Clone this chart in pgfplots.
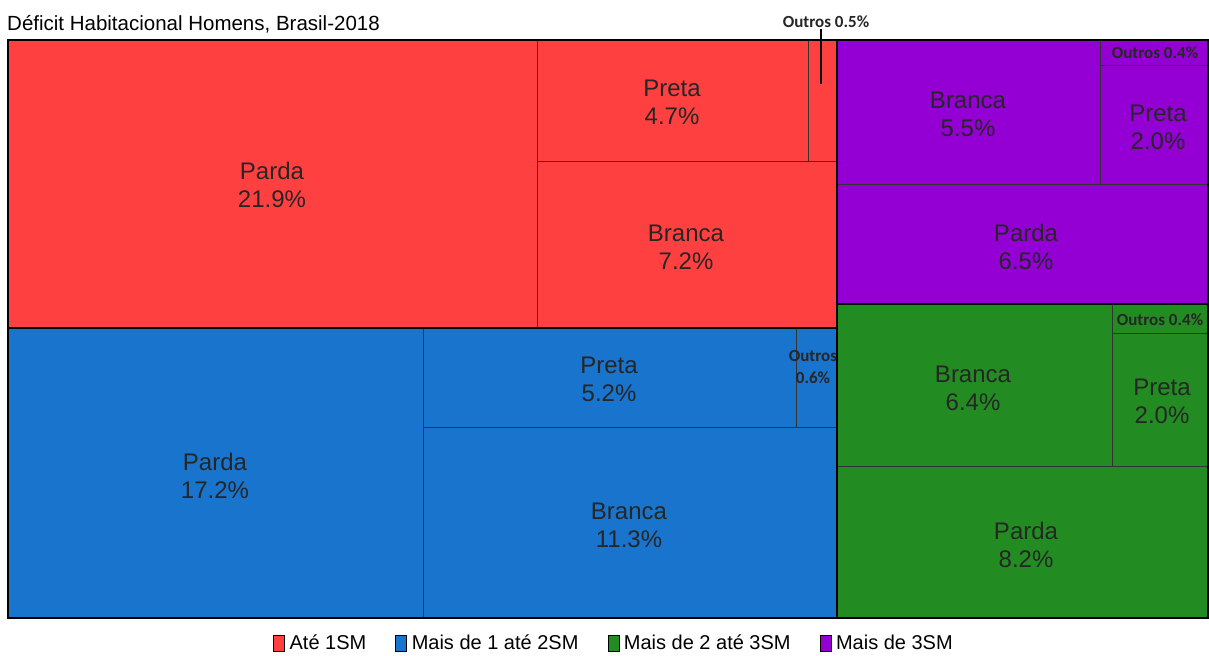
\documentclass[border=0pt]{standalone}
\usepackage{pgfplots}
\pgfplotsset{compat=1.18}
\usepackage{fontspec}
\setmainfont{Liberation Sans}
\newfontfamily\carlito{Carlito}
\definecolor{cRed}{HTML}{FF4040}
\definecolor{cBlue}{HTML}{1874CD}
\definecolor{cGreen}{HTML}{228B22}
\definecolor{cPurple}{HTML}{9400D3}
\pgfplotsset{
  cell/.style={forget plot, mark=none, draw=black!80, line width=0.8pt},
  grp/.style={forget plot, mark=none, draw=black, line width=1.8pt, fill=none},
}
\tikzset{
  lab/.style={font=\fontsize{24}{28}\selectfont, align=center, text=black!85, inner sep=0pt},
  sml/.style={font=\carlito\bfseries\fontsize{17}{22}\selectfont, align=center, text=black!85, inner sep=0pt},
}
\begin{document}
\begin{tikzpicture}
\begin{axis}[
  width=1209pt, height=655pt, scale only axis,
  xmin=0, xmax=1209, ymin=0, ymax=655, y dir=reverse,
  axis line style={draw=none}, xtick=\empty, ytick=\empty,
  clip=false,
  legend columns=4,
  legend style={at={(axis cs:614,643)}, anchor=center, draw=none, fill=none,
    font=\fontsize{20}{24}\selectfont,
    /tikz/every even column/.append style={column sep=27pt}},
  legend image code/.code={\fill[#1] (0pt,-8pt) rectangle (11pt,8pt); \path (14pt,0pt);},
]
\addlegendimage{fill=cRed}\addlegendentry{Até 1SM}
\addlegendimage{fill=cBlue}\addlegendentry{Mais de 1 até 2SM}
\addlegendimage{fill=cGreen}\addlegendentry{Mais de 2 até 3SM}
\addlegendimage{fill=cPurple}\addlegendentry{Mais de 3SM}

% Até 1SM
\addplot[cell, fill=cRed] coordinates {(8,40) (537,40) (537,328) (8,328)} --cycle;
\addplot[cell, fill=cRed] coordinates {(537,40) (808,40) (808,161) (537,161)} --cycle;
\addplot[cell, fill=cRed] coordinates {(808,40) (837,40) (837,161) (808,161)} --cycle;
\addplot[cell, fill=cRed] coordinates {(537,161) (837,161) (837,328) (537,328)} --cycle;
% Mais de 1 até 2SM
\addplot[cell, fill=cBlue] coordinates {(8,328) (423,328) (423,618) (8,618)} --cycle;
\addplot[cell, fill=cBlue] coordinates {(423,328) (796,328) (796,427) (423,427)} --cycle;
\addplot[cell, fill=cBlue] coordinates {(796,328) (837,328) (837,427) (796,427)} --cycle;
\addplot[cell, fill=cBlue] coordinates {(423,427) (837,427) (837,618) (423,618)} --cycle;
% Mais de 3SM
\addplot[cell, fill=cPurple] coordinates {(837,40) (1100,40) (1100,184) (837,184)} --cycle;
\addplot[cell, fill=cPurple] coordinates {(1100,40) (1208,40) (1208,65) (1100,65)} --cycle;
\addplot[cell, fill=cPurple] coordinates {(1100,65) (1208,65) (1208,184) (1100,184)} --cycle;
\addplot[cell, fill=cPurple] coordinates {(837,184) (1208,184) (1208,304) (837,304)} --cycle;
% Mais de 2 até 3SM
\addplot[cell, fill=cGreen] coordinates {(837,304) (1112,304) (1112,466) (837,466)} --cycle;
\addplot[cell, fill=cGreen] coordinates {(1112,304) (1208,304) (1208,333) (1112,333)} --cycle;
\addplot[cell, fill=cGreen] coordinates {(1112,333) (1208,333) (1208,466) (1112,466)} --cycle;
\addplot[cell, fill=cGreen] coordinates {(837,466) (1208,466) (1208,618) (837,618)} --cycle;
% group outlines
\addplot[grp] coordinates {(8,40) (837,40) (837,328) (8,328)} --cycle;
\addplot[grp] coordinates {(8,328) (837,328) (837,618) (8,618)} --cycle;
\addplot[grp] coordinates {(837,40) (1208,40) (1208,304) (837,304)} --cycle;
\addplot[grp] coordinates {(837,304) (1208,304) (1208,618) (837,618)} --cycle;
% leader line for Outros 0.5%
\addplot[forget plot, mark=none, black, line width=1.5pt] coordinates {(821,29) (821,84)};

% labels
\node[anchor=base west, font=\fontsize{20.5}{24}\selectfont, inner sep=0pt] at (axis cs:7,30) {Déficit Habitacional Homens, Brasil-2018};
\node[lab] at (axis cs:272,185) {Parda\\21.9\%};
\node[lab] at (axis cs:672,102) {Preta\\4.7\%};
\node[lab] at (axis cs:686,247) {Branca\\7.2\%};
\node[sml, anchor=base] at (axis cs:826,27) {Outros 0.5\%};
\node[lab] at (axis cs:215,476) {Parda\\17.2\%};
\node[lab] at (axis cs:609,379) {Preta\\5.2\%};
\node[lab] at (axis cs:629,525) {Branca\\11.3\%};
\node[sml] at (axis cs:813,367) {Outros\\0.6\%};
\node[lab] at (axis cs:968,114) {Branca\\5.5\%};
\node[sml] at (axis cs:1155,53) {Outros 0.4\%};
\node[lab] at (axis cs:1158,127) {Preta\\2.0\%};
\node[lab] at (axis cs:1026,247) {Parda\\6.5\%};
\node[lab] at (axis cs:973,388) {Branca\\6.4\%};
\node[sml] at (axis cs:1160,320) {Outros 0.4\%};
\node[lab] at (axis cs:1162,401) {Preta\\2.0\%};
\node[lab] at (axis cs:1026,545) {Parda\\8.2\%};
\end{axis}
\end{tikzpicture}
\end{document}
